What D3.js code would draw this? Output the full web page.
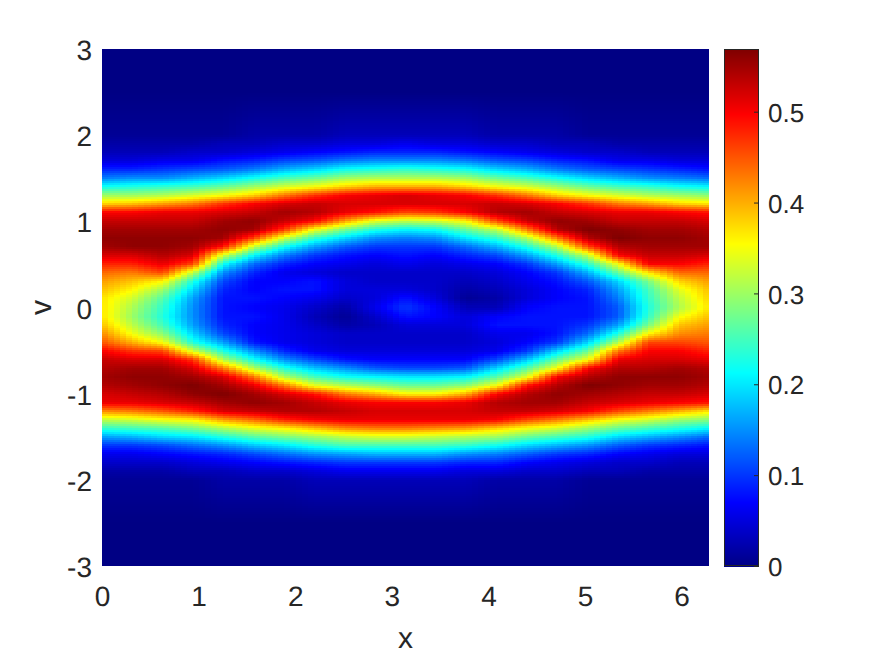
<!DOCTYPE html>
<html>
<head>
<meta charset="utf-8">
<script src="https://cdn.jsdelivr.net/npm/d3@7"></script>
<style>
  html, body { margin: 0; padding: 0; background: #fff; }
  svg { display: block; }
  text { font-family: "Liberation Sans", Arial, sans-serif; fill: #262626; text-rendering: geometricPrecision; }
</style>
</head>
<body>
<div id="chart"></div>
<script>
// value tables, in hundredths of f(x, v)
const xCols = d3.range(21).map(j => j * Math.PI / 10);
const vTop = [3, 2.5, 2.0, 1.9, 1.8, 1.7, 1.6, 1.5, 1.4, 1.3];
const vMid = [1.2, 1.1, 1.0, 0.9, 0.8, 0.7, 0.6, 0.5, 0.4, 0.3, 0.2, 0.1, 0, -0.1, -0.2, -0.3, -0.4, -0.5, -0.6, -0.7, -0.8, -0.9, -1.0, -1.1, -1.2];
const vBottom = [-1.3, -1.4, -1.5, -1.6, -1.7, -1.8, -1.9, -2.0, -2.5, -3];

// one line per v, left to right
const topRows = [
  [0,0,0,0,0,0,0,0,0,0,0,0,0,0,0,0,0,0,0,0,0],
  [0,0,0,0,0,0,0,0,0,0,0,0,0,0,0,0,0,0,0,0,0],
  [1,1,1,1,1,2,2,2,3,3,3,3,3,2,2,2,1,1,1,1,1],
  [2,2,2,2,3,3,4,4,5,5,6,5,5,4,4,3,3,2,2,2,2],
  [3,3,3,4,4,5,6,7,8,9,9,9,8,7,6,5,4,4,3,3,3],
  [5,5,6,6,8,9,11,12,14,15,15,15,14,12,11,9,8,6,6,5,5],
  [9,9,10,11,12,14,17,19,22,23,24,23,22,19,17,14,12,11,10,9,8],
  [14,15,15,17,19,22,25,27,30,31,31,31,30,27,25,22,19,17,15,14,13],
  [22,23,24,25,27,30,33,35,38,40,40,40,38,35,33,30,27,25,24,22,21],
  [30,30,31,33,35,38,43,47,50,51,52,51,50,47,43,38,35,33,31,30,29]
];

// one line per x, from v = 1.2 down to v = -1.2
const midCols = [
  [38,50,53,55,56,55,52,48,44,41,39,37,37,37,39,42,45,50,53,54,55,54,52,51,42],
  [39,50,53,55,56,56,52,48,43,39,36,33,31,30,32,35,40,47,52,55,56,55,53,51,43],
  [41,51,53,55,56,56,54,51,46,36,30,26,24,23,25,29,35,46,52,55,56,56,54,52,45],
  [43,51,53,55,56,55,52,46,32,23,19,16,15,15,16,19,23,33,47,52,55,57,56,53,48],
  [47,52,55,56,55,49,33,22,15,11,9,8,8,8,9,11,16,23,31,43,52,55,57,55,52],
  [50,53,56,55,46,32,21,13,9,7,7,8,7,8,7,7,8,15,22,31,43,51,55,56,53],
  [52,55,53,47,33,22,14,9,6,7,8,7,6,6,6,6,6,9,15,23,31,43,52,55,54],
  [53,54,50,35,24,16,10,7,5,8,8,6,4,3,4,5,5,6,11,18,25,34,49,53,54],
  [52,51,41,28,19,12,8,6,4,5,5,4,2,1,2,4,4,5,8,15,22,31,43,51,53],
  [52,49,34,23,15,10,7,5,4,4,5,5,6,4,3,4,4,5,7,12,21,29,40,50,52],
  [52,46,32,21,14,10,8,6,4,4,5,8,10,8,5,4,4,5,7,11,20,27,36,50,52],
  [52,47,33,22,15,10,7,5,4,4,4,5,7,7,5,4,4,5,7,11,20,27,36,50,52],
  [52,50,36,27,20,13,9,6,4,3,2,1,3,5,5,4,4,5,7,12,21,29,40,51,52],
  [53,54,46,32,24,17,11,7,5,4,3,2,3,7,8,6,5,6,11,19,26,35,50,54,53],
  [52,55,53,43,31,23,16,10,7,6,5,5,7,8,8,6,7,10,18,26,34,49,54,55,53],
  [50,53,56,54,43,31,23,16,10,8,7,7,8,8,8,8,10,19,27,35,50,54,56,55,52],
  [47,52,55,57,54,46,32,24,17,12,9,8,8,8,10,13,19,27,35,50,54,57,55,53,50],
  [43,51,53,56,57,54,50,35,27,19,16,14,12,12,16,23,31,43,51,54,56,56,54,52,46],
  [41,51,53,55,56,55,53,50,37,28,25,24,23,24,28,36,46,50,52,54,56,55,53,51,43],
  [38,50,53,55,56,55,53,50,44,38,34,32,31,35,39,42,46,50,52,55,56,55,53,50,40],
  [37,49,52,54,55,55,52,48,44,41,39,38,37,39,41,43,45,48,51,54,55,54,52,49,37]
];

const bottomRows = [
  [32,33,35,36,41,44,48,50,51,51,51,51,51,50,46,43,39,35,33,30,29],
  [24,25,26,28,31,34,36,39,42,43,43,42,41,38,35,33,30,27,25,23,21],
  [16,17,19,20,23,26,28,30,32,33,33,32,31,30,27,25,23,19,17,15,13],
  [10,10,11,13,15,18,20,23,25,25,25,25,24,22,19,17,15,12,10,9,8],
  [6,6,7,8,9,11,13,15,16,17,17,17,15,14,12,10,9,7,6,5,5],
  [4,4,4,5,6,7,8,9,10,10,10,10,9,9,7,6,5,4,4,3,3],
  [2,2,2,3,3,4,4,5,6,6,6,6,5,5,4,4,3,3,2,2,2],
  [1,1,1,1,2,2,2,3,3,3,3,3,3,2,2,2,1,1,1,1,1],
  [0,0,0,0,0,0,0,0,0,0,0,0,0,0,0,0,0,0,0,0,0],
  [0,0,0,0,0,0,0,0,0,0,0,0,0,0,0,0,0,0,0,0,0]
];

const xTicks = [0, 1, 2, 3, 4, 5, 6];
const vTicks = [-3, -2, -1, 0, 1, 2, 3];
const barTicks = [0, 0.1, 0.2, 0.3, 0.4, 0.5];
const barMax = 0.569;

const jetStops = [0, 0.125, 0.375, 0.625, 0.875, 1];
const jetColors = ['#000084', '#0000ff', '#00ffff', '#ffff00', '#ff0000', '#800000'];

const vGrid = vTop.concat(vMid, vBottom);
const grid = topRows.concat(d3.transpose(midCols), bottomRows);

const width = 875, height = 656;
const plot = { left: 102, right: 709, top: 49, bottom: 566 };
const bar = { left: 724, right: 759 };

const xScale = d3.scaleLinear().domain([0, 2 * Math.PI]).range([plot.left, plot.right]);
const vScale = d3.scaleLinear().domain([-3, 3]).range([plot.bottom, plot.top]);
const barScale = d3.scaleLinear().domain([0, barMax]).range([plot.bottom, plot.top]);
const color = d3.scaleLinear().domain(jetStops.map(t => t * barMax)).range(jetColors);

const svg = d3.select('#chart').append('svg')
  .attr('width', width)
  .attr('height', height);

svg.append('clipPath').attr('id', 'plot-clip')
  .append('rect')
  .attr('x', plot.left)
  .attr('y', plot.top)
  .attr('width', plot.right - plot.left)
  .attr('height', plot.bottom - plot.top);

// shaded lookup between the table nodes, the way the plot shades its grid
function sample(x, v) {
  const xPos = Math.min(x / (xCols[1] - xCols[0]), xCols.length - 1.000001);
  const j = Math.floor(xPos);
  let i = 0;
  while (i < vGrid.length - 2 && vGrid[i + 1] > v) i++;
  const s = xPos - j;
  const t = (vGrid[i] - v) / (vGrid[i] - vGrid[i + 1]);
  const a = grid[i][j] * (1 - s) + grid[i][j + 1] * s;
  const b = grid[i + 1][j] * (1 - s) + grid[i + 1][j + 1] * s;
  return (a * (1 - t) + b * t) / 100;
}

const nx = 100, nv = 258;
const cells = [];
for (let a = 0; a < nx; a++) {
  for (let b = 0; b < nv; b++) {
    cells.push({
      x0: a / nx * 2 * Math.PI,
      x1: (a + 1) / nx * 2 * Math.PI,
      v0: 3 - b / nv * 6,
      v1: 3 - (b + 1) / nv * 6
    });
  }
}

svg.append('g')
  .attr('clip-path', 'url(#plot-clip)')
  .attr('shape-rendering', 'crispEdges')
  .selectAll('rect')
  .data(cells)
  .join('rect')
  .attr('x', d => xScale(d.x0))
  .attr('y', d => vScale(d.v0))
  .attr('width', d => xScale(d.x1) - xScale(d.x0) + 0.5)
  .attr('height', d => vScale(d.v1) - vScale(d.v0) + 0.5)
  .attr('fill', d => color(sample((d.x0 + d.x1) / 2, (d.v0 + d.v1) / 2)));

// Axes
const xAxis = d3.axisBottom(xScale).tickValues(xTicks).tickSize(0).tickFormat(d => String(d));
const vAxis = d3.axisLeft(vScale).tickValues(vTicks).tickSize(0).tickPadding(10).tickFormat(d => String(d));

svg.append('g').attr('transform', `translate(0,${plot.bottom})`).call(xAxis)
  .call(g => g.select('.domain').remove())
  .selectAll('text').style('font-size', '28px').attr('dy', null).attr('y', 40);
svg.append('g').attr('transform', `translate(${plot.left},0)`).call(vAxis)
  .call(g => g.select('.domain').remove())
  .selectAll('text').style('font-size', '28px').attr('dy', '0.38em');

svg.append('text')
  .attr('x', (plot.left + plot.right) / 2)
  .attr('y', 648)
  .attr('text-anchor', 'middle')
  .style('font-size', '30px')
  .text('x');

svg.append('text')
  .attr('transform', `translate(51,${(plot.top + plot.bottom) / 2}) rotate(-90)`)
  .attr('text-anchor', 'middle')
  .style('font-size', '30px')
  .text('v');

// Colorbar
const barSteps = d3.range(0, 517);
svg.append('g')
  .attr('shape-rendering', 'crispEdges')
  .selectAll('rect')
  .data(barSteps)
  .join('rect')
  .attr('x', bar.left)
  .attr('width', bar.right - bar.left)
  .attr('y', d => plot.bottom - d - 1)
  .attr('height', 1.5)
  .attr('fill', d => color((d + 0.5) / 517 * barMax));

const barAxis = d3.axisRight(barScale).tickValues(barTicks).tickSize(-5).tickPadding(9)
  .tickFormat(d => String(d));

svg.append('g').attr('transform', `translate(${bar.right},0)`).call(barAxis)
  .call(g => g.select('.domain').remove())
  .call(g => g.selectAll('line').attr('stroke', '#262626'))
  .selectAll('text').style('font-size', '26px').attr('dy', '0.37em');

svg.append('rect')
  .attr('x', bar.left + 0.5)
  .attr('y', plot.top + 0.5)
  .attr('width', bar.right - bar.left - 1)
  .attr('height', plot.bottom - plot.top - 1)
  .attr('fill', 'none')
  .attr('stroke', '#262626')
  .attr('stroke-width', 1);
</script>
</body>
</html>
